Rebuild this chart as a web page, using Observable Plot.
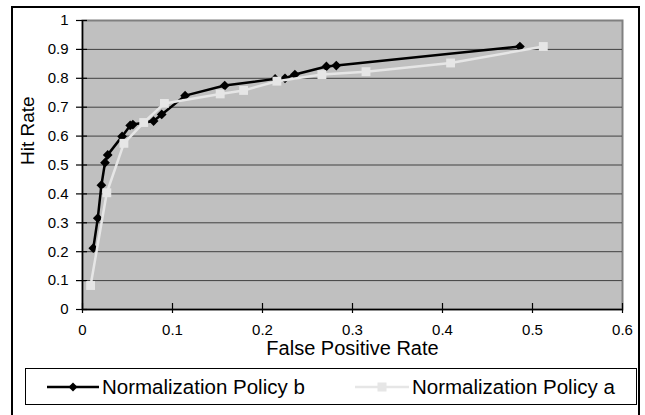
<!DOCTYPE html>
<html><head><meta charset="utf-8">
<script src="https://cdn.jsdelivr.net/npm/d3@7"></script>
<script src="https://cdn.jsdelivr.net/npm/@observablehq/plot@0.6"></script>
<style>
html,body{margin:0;padding:0;background:#fff;overflow:hidden;}
#wrap{position:relative;width:645px;height:415px;font-family:"Liberation Sans",Arial,sans-serif;overflow:hidden;}
#frame{position:absolute;left:11px;top:6px;width:629px;height:430px;border:2px solid #000;box-sizing:border-box;}
#chart{position:absolute;left:0;top:0;}
#legend{position:absolute;left:25px;top:368px;width:612px;height:37px;border:1px solid #000;box-sizing:border-box;background:#fff;}
.entry{position:absolute;top:0;height:35px;display:flex;align-items:center;font-size:20.5px;color:#000;white-space:nowrap;}
.entry svg{margin-right:3px;}
</style></head><body>
<div id="wrap"><div id="frame"></div><div id="chart"></div><div id="legend"></div></div>
<script>
const xTicks = [0, 0.1, 0.2, 0.3, 0.4, 0.5, 0.6];
const yTicks = [0, 0.1, 0.2, 0.3, 0.4, 0.5, 0.6, 0.7, 0.8, 0.9, 1];
const gridLines = [0.1, 0.2, 0.3, 0.4, 0.5, 0.6, 0.7, 0.8, 0.9];
const xTitle = "False Positive Rate";
const yTitle = "Hit Rate";
const seriesNames = ["Normalization Policy b", "Normalization Policy a"];
const seriesColors = ["#000000", "#e6e6e6"];

// Normalization Policy b (black diamonds)
const bFpr = [0.012, 0.017, 0.021, 0.025, 0.028, 0.044, 0.053, 0.056, 0.079, 0.088, 0.114, 0.158, 0.214, 0.225, 0.236, 0.271, 0.282, 0.486];
const bHit = [0.212, 0.316, 0.430, 0.508, 0.535, 0.599, 0.637, 0.640, 0.652, 0.675, 0.740, 0.775, 0.798, 0.800, 0.813, 0.841, 0.844, 0.910];
// Normalization Policy a (light grey squares)
const aFpr = [0.009, 0.027, 0.046, 0.068, 0.091, 0.153, 0.179, 0.216, 0.266, 0.315, 0.409, 0.512];
const aHit = [0.083, 0.404, 0.575, 0.647, 0.713, 0.746, 0.758, 0.790, 0.813, 0.823, 0.853, 0.910];

const rowsB = bFpr.map((x, i) => ({x, y: bHit[i]}));
const rowsA = aFpr.map((x, i) => ({x, y: aHit[i]}));

const chart = Plot.plot({
  width: 645,
  height: 415,
  marginLeft: 82,
  marginRight: 23,
  marginTop: 20,
  marginBottom: 106,
  style: {fontFamily: "'Liberation Sans', Arial, sans-serif", fontSize: "15px", background: "transparent", color: "#000", overflow: "visible"},
  x: {domain: [0, 0.6], ticks: xTicks, tickFormat: d => String(d), tickSize: 0, tickPadding: 15, label: null},
  y: {domain: [0, 1], ticks: yTicks, tickFormat: d => String(d), tickSize: 0, tickPadding: 14, label: null},
  marks: [
    Plot.frame({fill: "#c0c0c0", stroke: "#808080", strokeWidth: 2}),
    Plot.ruleY(gridLines, {y: d => d, stroke: "#404040", strokeWidth: 1}),
    Plot.ruleX([0], {x: d => d, stroke: "#000", strokeWidth: 1.5}),
    Plot.ruleY([0], {y: d => d, stroke: "#000", strokeWidth: 1.5}),
    Plot.ruleX(xTicks, {x: d => d, y1: 0, y2: 0, insetTop: -6, insetBottom: -4, stroke: "#000", strokeWidth: 1.2}),
    Plot.ruleY(yTicks, {y: d => d, x1: 0, x2: 0, insetLeft: -6, insetRight: -5, stroke: "#000", strokeWidth: 1.2}),
    Plot.line(rowsB, {x: "x", y: "y", stroke: seriesColors[0], strokeWidth: 2.5}),
    Plot.dot(rowsB, {x: "x", y: "y", symbol: "diamond2", r: 4.4, fill: seriesColors[0], stroke: "none"}),
    Plot.line(rowsA, {x: "x", y: "y", stroke: seriesColors[1], strokeWidth: 2.5}),
    Plot.dot(rowsA, {x: "x", y: "y", symbol: "square", r: 5, fill: seriesColors[1], stroke: "none"}),
    Plot.text([xTitle], {frameAnchor: "bottom", dy: 45, lineAnchor: "bottom", fontSize: 20, fill: "#000"}),
    Plot.text([yTitle], {frameAnchor: "left", rotate: -90, dx: -55, lineAnchor: "middle", fontSize: 19, fill: "#000"})
  ]
});
document.getElementById("chart").appendChild(chart);

// Legend
const legend = document.getElementById("legend");
const legendPos = [{left: 21, w: 52}, {left: 329, w: 54}];
seriesNames.forEach((name, i) => {
  const e = document.createElement("div");
  e.className = "entry";
  e.style.left = legendPos[i].left + "px";
  const w = legendPos[i].w;
  const marker = i === 0
    ? `<path d="M${w/2},${9-4.5} L${w/2+4.5},9 L${w/2},${9+4.5} L${w/2-4.5},9Z" fill="${seriesColors[i]}"/>`
    : `<rect x="${w/2-4.5}" y="4.5" width="9" height="9" fill="${seriesColors[i]}"/>`;
  e.innerHTML = `<svg width="${w}" height="18"><line x1="0" x2="${w}" y1="9" y2="9" stroke="${seriesColors[i]}" stroke-width="2.5"/>${marker}</svg><span>${name}</span>`;
  legend.appendChild(e);
});
</script>
</body></html>
